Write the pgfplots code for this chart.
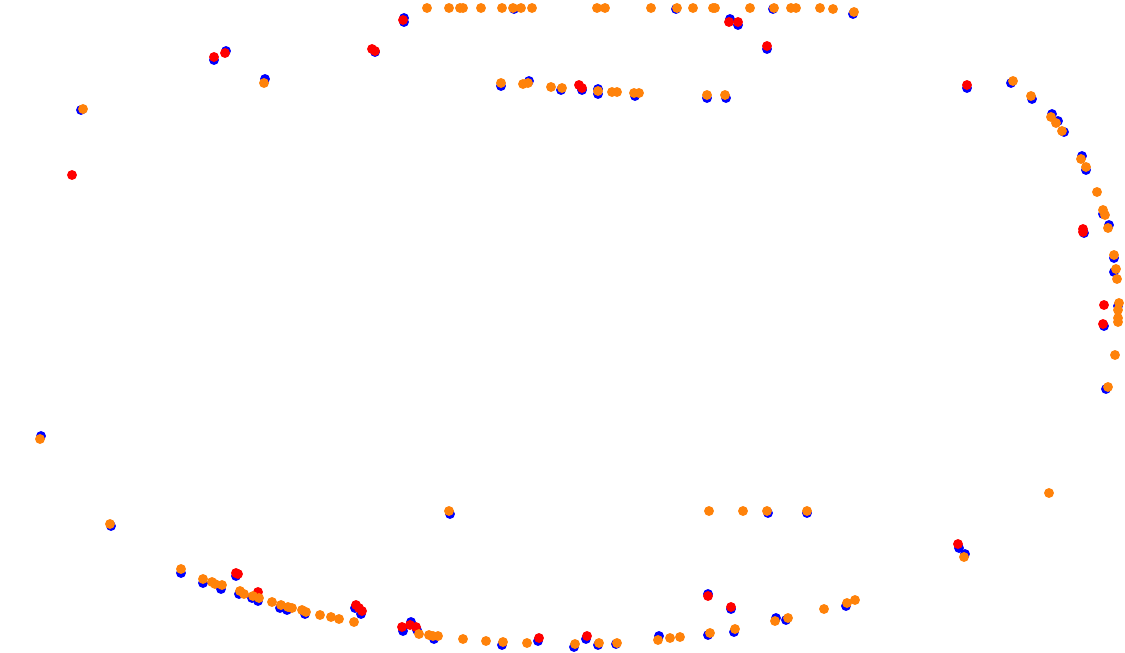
\documentclass[border=0pt]{standalone}
\usepackage{pgfplots}
\pgfplotsset{compat=1.18}
\definecolor{cblue}{RGB}{0,0,255}
\definecolor{cred}{RGB}{255,0,0}
\definecolor{corange}{RGB}{255,130,10}
\begin{document}
\begin{tikzpicture}
\begin{axis}[
  scale only axis, width=562.5pt, height=326.5pt,
  xmin=0, xmax=1125, ymin=0, ymax=653, y dir=reverse,
  hide axis, clip=false,
]
\path (axis cs:0,0) rectangle (axis cs:1125,653);
\addplot[only marks, mark=*, mark size=2.25pt, color=cblue, mark options={draw=none, fill=cblue}] coordinates {
(214,60)(226,51)(375,52)(265,79)(81,110)(404,18)(404,22)(514,9)(676,9)(773,9)(853,14)(730,19)(738,25)(767,49)
(501,86)(529,81)(561,90)(582,90)(598,89)(598,94)(635,96)(707,98)(726,98)
(967,88)(1011,83)(1032,99)(1052,114)(1058,121)(1064,132)(1082,156)(1086,170)(1103,214)(1109,225)(1084,233)
(1114,258)(1114,272)(1118,306)(1104,326)(1106,389)
(41,436)(111,526)(181,573)(203,583)(221,589)(236,576)(239,594)(252,598)(258,601)(280,608)(287,610)(305,614)
(355,608)(361,614)(403,631)(411,622)(417,630)(434,639)(450,514)(502,645)(538,641)(574,647)(586,639)(598,645)(616,644)
(659,636)(708,635)(734,632)(776,618)(786,620)(846,606)(708,594)(731,609)(768,513)(807,513)(959,548)(965,554)
};
\addplot[only marks, mark=*, mark size=2.25pt, color=cred, mark options={draw=none, fill=cred}] coordinates {
(214,57)(225,53)(372,49)(375,51)(72,175)(403,20)(729,22)(738,22)(767,46)(579,85)(582,88)(967,85)
(1083,229)(1083,232)(1104,305)(1103,324)
(236,573)(238,574)(258,592)(356,605)(359,608)(362,611)(402,627)(410,625)(416,627)(539,638)(587,636)
(708,596)(731,607)(958,544)
};
\addplot[only marks, mark=*, mark size=2.25pt, color=corange, mark options={draw=none, fill=corange}] coordinates {
(264,83)(83,109)
(427,8)(449,8)(460,8)(463,8)(481,8)(502,8)(513,8)(521,8)(532,8)(597,8)(605,8)(651,8)(677,8)(693,8)(713,8)(715,8)
(750,8)(774,8)(791,8)(796,8)(820,8)(833,9)(854,12)
(501,83)(523,84)(528,83)(551,87)(562,88)(598,91)(612,92)(617,92)(634,93)(639,93)(707,95)(725,95)
(1013,81)(1031,96)(1051,117)(1056,123)(1062,131)(1081,159)(1086,167)(1097,192)(1103,210)(1105,215)(1108,228)
(1114,255)(1116,269)(1117,279)(1119,303)(1118,310)(1118,318)(1118,322)(1115,355)(1108,387)(1049,493)(964,557)
(40,439)(110,524)(449,511)(181,569)(203,579)(212,582)(215,584)(222,585)(240,591)(244,594)(253,596)(259,598)
(272,602)(281,605)(288,607)(292,608)(302,610)(306,612)(320,615)(331,617)(339,619)(354,622)
(419,634)(429,635)(433,636)(438,636)(463,639)(486,641)(503,642)(527,643)(575,644)(599,643)(617,643)
(658,640)(670,638)(680,637)(710,633)(735,629)(775,621)(788,618)(824,609)(847,603)(855,600)
(709,511)(743,511)(767,511)(807,511)
};
\end{axis}
\end{tikzpicture}
\end{document}
